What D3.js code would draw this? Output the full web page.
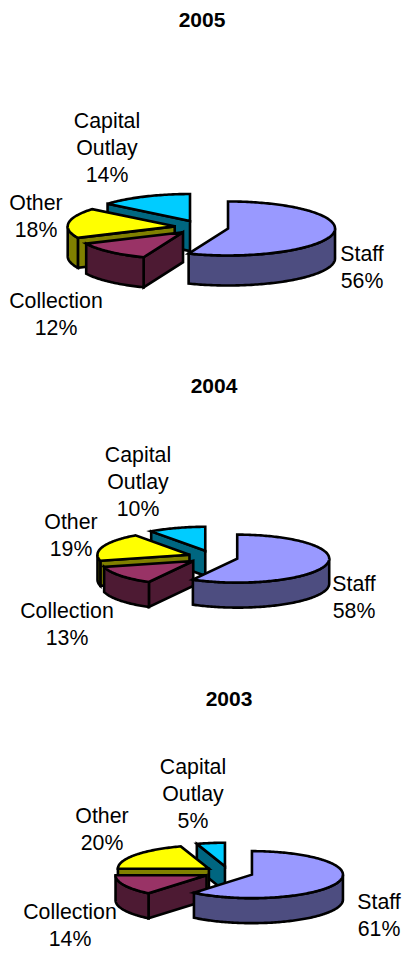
<!DOCTYPE html>
<html>
<head>
<meta charset="utf-8">
<title>Expenditure by year</title>
<script src="https://cdn.jsdelivr.net/npm/d3@7"></script>
<style>
    html, body { margin: 0; padding: 0; background: #fff; }
    svg { display: block; }
    text { font-family: "Liberation Sans", Arial, sans-serif; fill: #000; }
    .title { font-size: 21px; font-weight: bold; text-anchor: middle; }
    .label { font-size: 21.3px; text-anchor: middle; }
</style>
</head>
<body>
<div id="charts"></div>
<script>
// data
const years = ['2005', '2004', '2003'];
const categories = ['Staff', 'Collection', 'Other', 'Capital Outlay'];
const values2005 = [56, 12, 18, 14];
const values2004 = [58, 13, 19, 10];
const values2003 = [61, 14, 20, 5];

// slice colours, same order as categories
const topColors = ['#9999ff', '#993366', '#ffff00', '#00ccff'];
const sideColors = ['#4d4d80', '#4d1a33', '#808000', '#006680'];

// layout of each pie: centre, radii, wall depth, explosion, title and label spots
const layouts = [
    { values: values2005, cx: 201.5, cy: 227.2, rx: 107, ry: 27, depth: 30, explode: 27, titleX: 202, titleY: 27,
      labels: [[362, 261], [56, 308], [36, 210], [107, 128]] },
    { values: values2004, cx: 213, cy: 557, rx: 92, ry: 24, depth: 25, explode: 25, titleX: 214, titleY: 393,
      labels: [[354, 591], [67, 618], [71, 529], [138, 462]] },
    { values: values2003, cx: 228.8, cy: 872.5, rx: 91, ry: 23.5, depth: 25, explode: 24.6, titleX: 229, titleY: 706,
      labels: [[379, 909], [70, 919], [102, 823], [193, 774]] }
];

const width = 402, height = 956, lineHeight = 27;
const svg = d3.select('#charts').append('svg').attr('width', width).attr('height', height);
const pie = d3.pie().sort(null);
const line = d3.line();

// clockwise from 12 o'clock, like d3.pie
const angleX = a => Math.sin(a);
const angleY = a => -Math.cos(a);

function sampleAngles(a0, a1) {
    const n = Math.max(2, Math.ceil((a1 - a0) / 0.02));
    return d3.range(n + 1).map(i => a0 + (a1 - a0) * i / n);
}

function drawPie(layout, i) {
    const g = svg.append('g');
    const x = d3.scaleLinear().domain([-1, 1]).range([layout.cx - layout.rx, layout.cx + layout.rx]);
    const y = d3.scaleLinear().domain([-1, 1]).range([layout.cy - layout.ry, layout.cy + layout.ry]);
    const unit = layout.explode / layout.rx;

    const slices = pie(layout.values).map((d, k) => {
        const mid = (d.startAngle + d.endAngle) / 2;
        return { ...d, k, dx: angleX(mid) * unit, dy: angleY(mid) * unit };
    });

    // back to front: capital outlay, other, collection, staff
    slices.slice().reverse().forEach(s => {
        const px = a => x(angleX(a) + s.dx);
        const py = a => y(angleY(a) + s.dy);
        const apex = [x(s.dx), y(s.dy)];
        const slice = g.append('g');

        // flat wall on the start side, only seen when it faces us
        if (Math.sin(s.startAngle) < 0) {
            const a = s.startAngle;
            slice.append('path')
                .attr('d', line([apex, [px(a), py(a)], [px(a), py(a) + layout.depth], [apex[0], apex[1] + layout.depth]]) + 'Z')
                .attr('fill', sideColors[s.k]);
        }

        // rim, front half only
        const from = Math.max(s.startAngle, Math.PI / 2);
        const to = Math.min(s.endAngle, Math.PI * 1.5);
        if (to > from) {
            const angles = sampleAngles(from, to);
            const upper = angles.map(a => [px(a), py(a)]);
            const lower = angles.reverse().map(a => [px(a), py(a) + layout.depth]);
            slice.append('path')
                .attr('d', line(upper.concat(lower)) + 'Z')
                .attr('fill', sideColors[s.k]);
        }

        // top face
        const rim = sampleAngles(s.startAngle, s.endAngle).map(a => [px(a), py(a)]);
        slice.append('path')
            .attr('d', line([apex].concat(rim)) + 'Z')
            .attr('fill', topColors[s.k]);

        slice.selectAll('path')
            .attr('stroke', '#000')
            .attr('stroke-width', 2.6)
            .attr('stroke-linejoin', 'miter');
    });

    g.append('text').attr('class', 'title')
        .attr('x', layout.titleX).attr('y', layout.titleY)
        .text(years[i]);

    // labels: name (capital outlay wraps) then the percentage
    slices.forEach(s => {
        const [lx, ly] = layout.labels[s.k];
        const lines = categories[s.k].split(' ').concat(s.value + '%');
        g.append('text').attr('class', 'label')
            .selectAll('tspan').data(lines).join('tspan')
            .attr('x', lx)
            .attr('y', (d, n) => ly + n * lineHeight)
            .text(d => d);
    });
}

layouts.forEach(drawPie);
</script>
</body>
</html>
